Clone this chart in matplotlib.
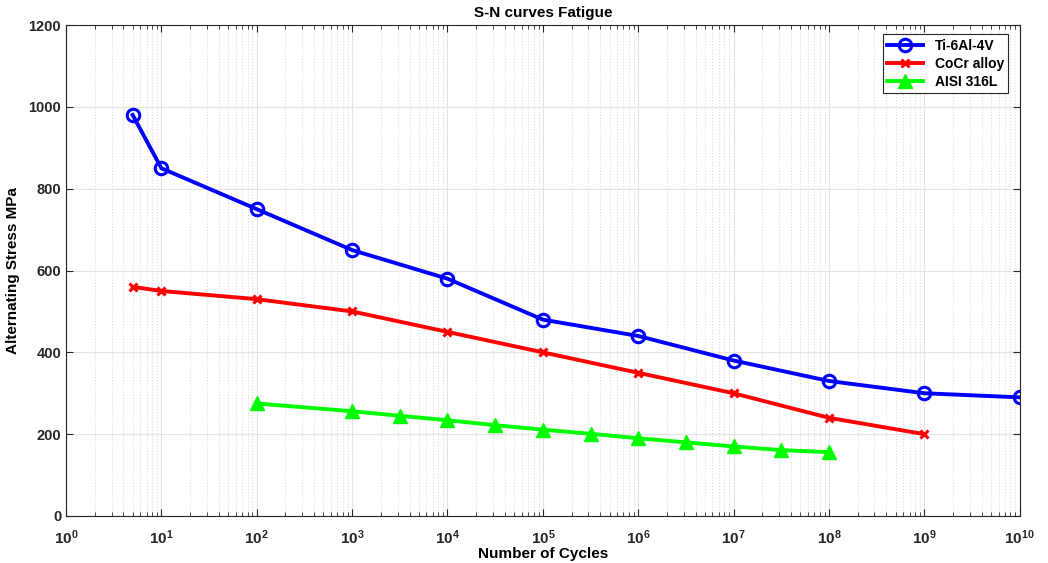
import matplotlib
matplotlib.use('Agg')
import matplotlib.pyplot as plt
from matplotlib.ticker import LogLocator, NullFormatter
import numpy as np

plt.rcParams['font.family'] = ['Liberation Sans', 'DejaVu Sans']
plt.rcParams['font.weight'] = 'bold'
plt.rcParams['mathtext.fontset'] = 'custom'
plt.rcParams['mathtext.rm'] = 'Liberation Sans:bold'
plt.rcParams['mathtext.bf'] = 'Liberation Sans:bold'
plt.rcParams['mathtext.default'] = 'bf'

# DATA
ti_n = [5, 1e1, 1e2, 1e3, 1e4, 1e5, 1e6, 1e7, 1e8, 1e9, 1e10]
ti_s = [980, 850, 750, 650, 580, 480, 440, 380, 330, 300, 290]

cocr_n = [5, 1e1, 1e2, 1e3, 1e4, 1e5, 1e6, 1e7, 1e8, 1e9]
cocr_s = [560, 550, 530, 500, 450, 400, 350, 300, 240, 200]

ss_n = [1e2, 1e3, 10**3.5, 1e4, 10**4.5, 1e5, 10**5.5, 1e6, 10**6.5, 1e7, 10**7.5, 1e8]
ss_s = [275, 256, 245, 234, 222, 211, 201, 190, 180, 170, 161, 156]

fig = plt.figure(figsize=(10.48, 5.63), dpi=100)
ax = fig.add_axes([0.063, 0.0835, 0.910, 0.872])

ax.plot(ti_n, ti_s, '-o', color='#0000ff', lw=2.8, ms=9, mfc='none', mew=2.2, label='Ti-6Al-4V')
ax.plot(cocr_n, cocr_s, '-x', color='#ff0000', lw=2.8, ms=6, mew=2.2, label='CoCr alloy')
ax.plot(ss_n, ss_s, '-^', color='#00ff00', lw=2.8, ms=10, label='AISI 316L')

ax.set_xscale('log')
ax.set_xlim(1, 1e10)
ax.set_ylim(0, 1200)
ax.set_xticks([10.0**k for k in range(11)])
ax.set_xticklabels([r'$\mathbf{10^{%d}}$' % k for k in range(11)])
ax.xaxis.set_minor_locator(LogLocator(base=10, subs=np.arange(2, 10), numticks=100))
ax.xaxis.set_minor_formatter(NullFormatter())
ax.set_yticks(range(0, 1201, 200))

ax.grid(True, which='major', color='#e3e3e3', linestyle='-', lw=0.8)
ax.grid(True, which='minor', axis='x', color='#dcdcdc', linestyle=':', lw=0.8)
ax.set_axisbelow(True)
ax.tick_params(which='both', direction='in', top=True, right=True, labelsize=10.5, colors='#262626')
ax.tick_params(which='major', length=5)
ax.tick_params(which='minor', length=3)
ax.tick_params(axis='x', which='major', pad=9, labelsize=11)
for s in ax.spines.values():
    s.set_color('#262626')
    s.set_linewidth(0.8)

ax.set_title('S-N curves Fatigue', fontsize=11, fontweight='bold', pad=6)
ax.set_xlabel('Number of Cycles', fontsize=11, fontweight='bold', labelpad=0)
ax.set_ylabel('Alternating Stress MPa', fontsize=11, fontweight='bold', labelpad=6)

leg = ax.legend(loc='upper right', fontsize=10, fancybox=False, edgecolor='#262626',
                framealpha=1, handlelength=2.6, borderpad=0.3, labelspacing=0.3,
                bbox_to_anchor=(0.995, 0.995))
leg.get_frame().set_linewidth(0.8)

fig.savefig('out.png', dpi=100)
